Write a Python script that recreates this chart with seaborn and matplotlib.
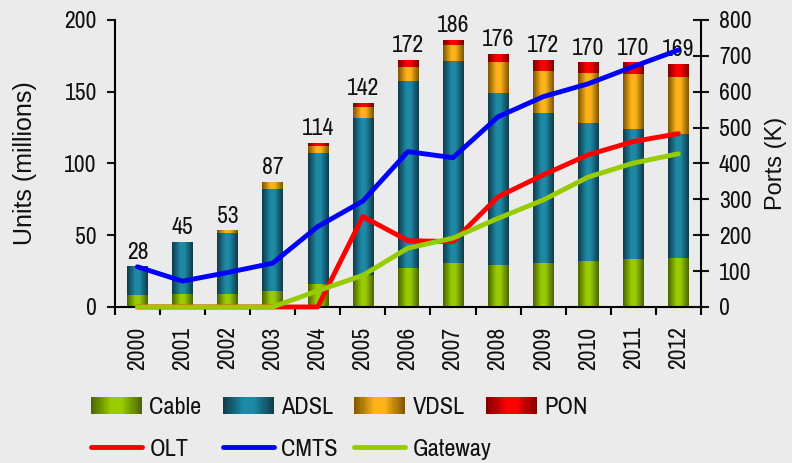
import numpy as np
import matplotlib

matplotlib.use("Agg")
import matplotlib.pyplot as plt
import seaborn as sns
from matplotlib.colors import LinearSegmentedColormap
from matplotlib.legend_handler import HandlerBase
from matplotlib.lines import Line2D
from matplotlib.patches import Patch, Rectangle

years = ["2000", "2001", "2002", "2003", "2004", "2005", "2006",
         "2007", "2008", "2009", "2010", "2011", "2012"]

# units (millions), stacked
cable = [8, 9, 9, 11, 16, 22, 27, 30, 29, 30, 32, 33, 34]
adsl = [20, 36, 42, 71, 91, 109, 130, 141, 120, 105, 96, 91, 86]
vdsl = [0, 0, 2, 5, 5, 8, 10, 11, 21, 29, 35, 38, 40]
pon = [0, 0, 0, 0, 2, 3, 5, 4, 6, 8, 7, 8, 9]
totals = [28, 45, 53, 87, 114, 142, 172, 186, 176, 172, 170, 170, 169]

# ports (K), right axis
olt = [0, 0, 0, 0, 0, 252, 185, 182, 307, 368, 424, 461, 483]
cmts = [112, 72, 96, 122, 224, 295, 433, 416, 530, 586, 622, 670, 716]
gateway = [0, 0, 0, 0, 45, 88, 164, 192, 247, 298, 362, 401, 427]

BG = "#ebebeb"
INK = "#111111"
NARROW = ["Archivo Narrow", "Liberation Sans", "DejaVu Sans"]
WIDE = ["Liberation Sans", "DejaVu Sans"]

# (light, dark) pairs for the cylinder-ish bar shading
BAR_STYLES = {
    "Cable": ("#99cc00", "#4a6300"),
    "ADSL": ("#1f8aa5", "#0e3a4a"),
    "VDSL": ("#ffb31a", "#7a5500"),
    "PON": ("#ff0000", "#7a0000"),
}
LINE_STYLES = {"OLT": "#ff0000", "CMTS": "#0000ff", "Gateway": "#99cc00"}


def _cmap(light, dark):
    return LinearSegmentedColormap.from_list(
        "g", [(0, dark), (0.4, light), (0.6, light), (1, dark)])


class GradientHandler(HandlerBase):
    """Legend swatch built from thin slices so it shows the same shading."""

    def __init__(self, cmap):
        super().__init__()
        self.cmap = cmap

    def create_artists(self, legend, orig_handle, xdescent, ydescent,
                       width, height, fontsize, trans):
        n = 24
        return [Rectangle((-xdescent + i * width / n, -ydescent),
                          width / n * 1.05, height, transform=trans,
                          facecolor=self.cmap((i + 0.5) / n), edgecolor="none")
                for i in range(n)]


sns.set_theme(style="ticks")
plt.rcParams["font.family"] = NARROW
plt.rcParams["axes.linewidth"] = 1.5

fig = plt.figure(figsize=(7.92, 4.63), dpi=100, facecolor=BG)
ax = fig.add_axes([0.145, 0.337, 0.74, 0.62])
ax.set_facecolor(BG)

# stacked bars drawn as overlapping cumulative layers, tallest first
layers = [
    ("PON", np.array(cable) + np.array(adsl) + np.array(vdsl) + np.array(pon)),
    ("VDSL", np.array(cable) + np.array(adsl) + np.array(vdsl)),
    ("ADSL", np.array(cable) + np.array(adsl)),
    ("Cable", np.array(cable)),
]
grad = np.linspace(0, 1, 64).reshape(1, -1)
top_container = None
for k, (name, cum) in enumerate(layers):
    light, dark = BAR_STYLES[name]
    sns.barplot(x=years, y=cum, color=light, width=0.45, ax=ax,
                saturation=1, linewidth=0)
    cont = ax.containers[-1]
    if top_container is None:
        top_container = cont
    cmap = _cmap(light, dark)
    for rect in cont:
        x0, y0 = rect.get_x(), rect.get_y()
        w, h = rect.get_width(), rect.get_height()
        if h <= 0:
            continue
        ax.imshow(grad, cmap=cmap, extent=(x0, x0 + w, y0, y0 + h),
                  aspect="auto", interpolation="bicubic", zorder=1 + k * 0.01)
        rect.set_facecolor("none")

ax.bar_label(top_container, labels=[str(t) for t in totals], padding=3,
             fontsize=17, family=NARROW, color=INK)

ax.set_xlim(-0.5, 12.5)
ax.set_ylim(0, 200)
ax.set_yticks(range(0, 201, 50))
ax.set_xlabel("")
ax.set_xticks(range(len(years)))
ax.set_xticklabels(years, rotation=90)
ax.set_xticks(np.arange(-0.5, 12.6, 1), minor=True)
ax.tick_params(axis="x", which="major", length=0, pad=14, labelsize=17,
               colors=INK)
ax.tick_params(axis="x", which="minor", length=6, width=1.5,
               direction="out", color="black")
ax.tick_params(axis="y", length=6, width=1.5, direction="out", pad=7,
               labelsize=17, colors=INK)
ax.set_ylabel("Units (millions)", fontsize=18, family=WIDE, color=INK)
ax.yaxis.set_label_coords(-0.133, 0.5)
for s in ("left", "bottom"):
    ax.spines[s].set_color("black")
ax.spines["top"].set_visible(False)
ax.spines["right"].set_visible(False)

ax2 = ax.twinx()
x_pos = np.arange(len(years))
for name, vals in (("OLT", olt), ("CMTS", cmts), ("Gateway", gateway)):
    sns.lineplot(x=x_pos, y=vals, ax=ax2, color=LINE_STYLES[name],
                 linewidth=3.5, clip_on=False, solid_capstyle="round",
                 solid_joinstyle="round")
ax2.set_ylim(0, 800)
ax2.set_yticks(range(0, 801, 100))
ax2.set_xlim(-0.5, 12.5)
ax2.tick_params(axis="y", length=12, width=1.5, direction="inout", pad=7,
                labelsize=17, colors=INK)
ax2.set_ylabel("Ports (K)", fontsize=17, family=WIDE, color=INK)
ax2.yaxis.set_label_coords(1.11, 0.5)
ax2.spines["right"].set_color("black")
for s in ("top", "left", "bottom"):
    ax2.spines[s].set_visible(False)

# legend: four two-row columns at fixed positions
columns = [("Cable", "OLT"), ("ADSL", "CMTS"), ("VDSL", "Gateway"), ("PON", None)]
col_x = [91, 223, 354, 486]
for (bar_name, line_name), px in zip(columns, col_x):
    light, dark = BAR_STYLES[bar_name]
    swatch = Patch(label=bar_name)
    handles, labels = [swatch], [bar_name]
    if line_name:
        handles.append(Line2D([], [], color=LINE_STYLES[line_name],
                              linewidth=3.5, solid_capstyle="round"))
        labels.append(line_name)
    leg = fig.legend(handles, labels,
                     handler_map={swatch: GradientHandler(_cmap(light, dark))},
                     loc="upper left", bbox_to_anchor=(px / 792, 1 - 397 / 463),
                     frameon=False, borderpad=0, borderaxespad=0,
                     handlelength=2.1, handleheight=0.65, handletextpad=0.3,
                     labelspacing=0.85, prop={"family": NARROW, "size": 17.5})
    for t in leg.get_texts():
        t.set_color(INK)

fig.savefig("out.png", dpi=100, facecolor=BG)
